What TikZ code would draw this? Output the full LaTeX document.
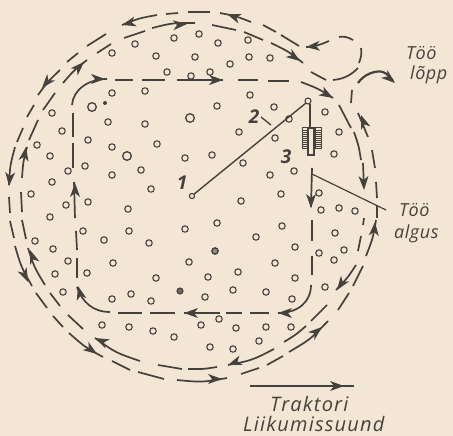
\documentclass[tikz,border=0pt]{standalone}
\usepackage{fontspec}
\setmainfont{Open Sans}
\definecolor{paper}{HTML}{F3E6D4}
\definecolor{ink}{HTML}{45413D}
\tikzset{
  ring/.style={draw=ink,line width=1.1pt,fill=none},
  stroke/.style={draw=ink,line width=1.7pt,line cap=butt},
  label/.style={text=ink,font=\itshape\fontsize{20}{20}\selectfont\addfontfeature{LetterSpace=6},inner sep=0pt,anchor=base west},
  sidelabel/.style={label,font=\itshape\fontsize{18}{18}\selectfont\addfontfeature{LetterSpace=3}},
  num/.style={text=ink,font=\itshape\bfseries\fontsize{19}{19}\selectfont,inner sep=0pt}
}
% curved dash: bulges away from the centre of the field
\newcommand{\dsh}[4]{%
  \pgfmathsetmacro{\mymx}{(#1+#3)/2}\pgfmathsetmacro{\mymy}{(#2+#4)/2}%
  \pgfmathsetmacro{\myddx}{\mymx-195}\pgfmathsetmacro{\myddy}{\mymy-195}%
  \pgfmathsetmacro{\mydd}{veclen(\myddx,\myddy)}%
  \pgfmathsetmacro{\myll}{((#3-#1)*(#3-#1)+(#4-#2)*(#4-#2))/(4*\mydd)}%
  \draw[stroke] (#1,#2) .. controls ({\mymx+\myddx/\mydd*\myll},{\mymy+\myddy/\mydd*\myll}) .. (#3,#4);}
% barbed arrow head: tip at (x,y), direction in picture terms (0 right, 90 down)
\newcommand{\tip}[3]{%
  \fill[ink,shift={(#1,#2)},rotate=-#3] (0,0) -- (-14,-5) -- (-10,0) -- (-14,5) -- cycle;}
\begin{document}
\begin{tikzpicture}[x=1pt,y=-1pt]
\fill[paper] (0,0) rectangle (453,436);
\useasboundingbox (0,0) rectangle (453,436);
% plants
\foreach \x/\y in {112/53,135/44,174/38,199/34,218/43,156/56,195/57,167/72,191/76,210/72,112/93,145/91,217/106,52/113,108/122,145/124,62/131,88/140,37/145,112/147,157/144,50/156,185/158,212/155,68/171,85/166,112/175,141/170,52/182,151/189,31/194,66/205,88/202,128/209,50/217,
248/40,230/64,249/57,270/58,250/95,274/107,325/112,289/119,239/132,339/132,275/138,334/154,243/163,270/175,294/171,281/194,241/201,319/193,321/210,339/208,355/211,
83/231,129/231,185/229,217/223,35/241,104/240,149/243,53/249,215/251,68/261,113/263,189/262,55/274,87/273,156/278,208/277,63/292,112/299,131/294,151/301,205/297,219/319,102/325,129/327,153/331,174/337,201/325,210/347,
282/226,256/237,335/233,295/247,344/250,319/253,334/260,275/263,238/272,295/278,325/287,233/290,266/292,292/299,236/328,266/327,291/327,259/341,233/349}
  {\draw[ring] (\x,\y) circle (3.2);}
\foreach \x/\y in {92/107,190/118,127/156}{\draw[ring,line width=1.3pt] (\x,\y) circle (4.3);}
\draw[ring] (192,196) circle (2.6);
\draw[ring] (308,101) circle (3);
\fill[ink] (105,103) circle (2);
\draw[ring,fill=ink!80] (180,291) circle (3);
\draw[ring,fill=ink!60] (215,251) circle (3);
% outer and middle passes
\foreach \a/\b/\c/\d in {
 122/25/157/15, 166/14/178/13, 188/12/210/12, 220/13/251/22, 263/25/276/32, 281/35/299/46,
 87/46/106/34, 67/62/78/53, 38/95/60/70, 27/117/34/105, 17/142/23/128, 9/185/15/147, 9/197/10/213,
 10/221/14/238, 15/246/32/286, 36/293/47/308, 53/316/63/327, 69/333/103/357, 112/361/130/370,
 138/372/164/379, 177/380/227/378, 241/374/259/368, 267/365/283/356, 289/352/328/321,
 338/310/349/293, 353/286/363/266, 366/256/376/220, 376/182/377/198, 377/206/377/218, 372/150/375/168, 358/113/368/137,
 124/38/145/31, 152/28/195/23, 212/25/236/30, 244/32/263/40, 271/43/303/63, 311/72/326/80,
 97/53/111/44, 63/83/87/60, 43/110/55/93, 29/140/38/120, 22/178/27/147, 21/192/22/212,
 22/220/26/239, 28/248/45/285, 50/293/60/306, 68/315/83/329, 95/338/140/361, 158/365/182/369,
 188/369/217/367, 228/365/274/349, 284/342/306/326, 311/321/327/305, 336/290/356/265, 358/251/361/236,
 363/225/364/218, 363/163/364/188, 354/132/361/160, 339/105/351/128, 301/82/333/98}
 {\dsh{\a}{\b}{\c}{\d}}
% exit loop
\draw[stroke] (333,80) .. controls (345,79) and (352,74) .. (358,68);
\draw[stroke] (359,63) .. controls (361,58) and (362,53) .. (361,48);
\draw[stroke] (353,40) .. controls (348,37) and (343,36) .. (339,37);
\draw[stroke] (329,41) .. controls (322,44) and (315,47) .. (306,47);
\draw[stroke] (352,90) -- (351,103);
\draw[stroke,line width=2.2pt] (358,83) .. controls (364,74) and (376,70) .. (383,72) .. controls (388,74) and (391,78) .. (393,81);
% inner pass
\foreach \a/\b/\c/\d in {
 115/80/133/80, 142/80/165/80, 177/80/223/80, 238/80/258/80, 268/81/289/81,
 73/113/73/137, 73/143/73/168, 74/182/75/218, 76/231/77/250, 77/258/77/278,
 118/313/142/313, 150/313/175/313, 184/313/220/313, 226/313/242/313, 250/313/269/313,
 312/168/311/207, 312/220/312/241, 312/256/312/275}
 {\draw[stroke] (\a,\b) -- (\c,\d);}
\draw[stroke] (72,105) .. controls (73,90) and (88,79) .. (107,79);
\draw[stroke] (77,287) .. controls (82,302) and (93,312) .. (110,312);
\draw[stroke] (278,313) .. controls (298,313) and (311,302) .. (311,285);
% arrowheads
\tip{122}{25}{165}\tip{42}{88}{130}\tip{9}{186}{95}\tip{28}{282}{65}\tip{97}{354}{35}\tip{222}{379}{0}\tip{322}{327}{-40}\tip{375}{222}{-85}\tip{361}{115}{-110}\tip{395}{83}{40}\tip{306}{47}{175}\tip{227}{14}{200}
\tip{187}{24}{-5}\tip{300}{61}{35}\tip{84}{62}{-45}\tip{26}{147}{-80}\tip{30}{250}{-110}\tip{95}{338}{205}\tip{228}{365}{160}\tip{337}{290}{125}\tip{364}{190}{88}\tip{333}{98}{30}
\tip{105}{79}{0}\tip{223}{80}{0}\tip{75}{183}{-90}\tip{78}{286}{-105}\tip{184}{313}{180}\tip{278}{313}{180}\tip{311}{208}{90}
% tool
\coordinate (ringc) at (308,101);
\coordinate (start) at (192,196);
\draw[ink,line width=1.4pt] (start) ++(2.2,-2) -- (306,103);
\draw[ink,line width=1.4pt] (261,117) -- (271,125);
\draw[ink,line width=1.2pt] (310,104) -- (310,128);
\draw[ink,line width=1.2pt] (308,128) rectangle (314,155);
\foreach \xx in {302,315}{
  \draw[ink,line width=1pt] (\xx,128) rectangle (\xx+6,148);
  \foreach \yy in {130,132,...,146}{\draw[ink,line width=.7pt] (\xx,\yy) -- (\xx+6,\yy);}
}
\draw[ink,line width=1.2pt] (312,174) -- (386,210);
% direction arrow
\coordinate (da) at (250,386);
\coordinate (db) at (354,386);
\draw[ink,line width=1.4pt] (da) -- (db);
\tip{344}{386}{0}
% labels
\node[num] (n1) at (182,183) {1};
\node[num] (n2) at (254,117) {2};
\node[num] (n3) at (286,157) {3};
\node[sidelabel] (lopp) at (406,60) {Töö};
\node[sidelabel] (lopp2) at (410,80) {lõpp};
\node[sidelabel] (alg) at (399,216) {Töö};
\node[sidelabel] (alg2) at (394,238) {algus};
\node[label] (tr) at (270,411) {Traktori};
\node[label] (li) at (243,431) {Liikumissuund};
\end{tikzpicture}
\end{document}
